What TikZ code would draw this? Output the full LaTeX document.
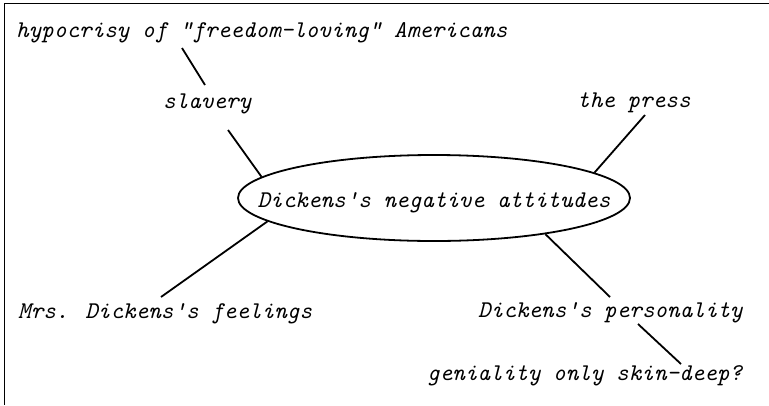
\documentclass[tikz,border=0pt]{standalone}
\usepackage{fontspec}
\usetikzlibrary{calc,shapes.geometric}
\tikzset{
  lbl/.style={anchor=base west, inner sep=0pt, font=\fontsize{24}{28}\selectfont\ttfamily\itshape},
  hub/.style={ellipse, draw, line width=1.8pt, minimum width=392pt, minimum height=86pt, inner sep=0pt, font=\fontsize{24}{28}\selectfont\ttfamily\itshape},
  link/.style={line width=1.8pt},
  frame/.style={line width=1.8pt}
}
\begin{document}
\begin{tikzpicture}[x=1pt,y=-1pt]
\useasboundingbox (0,0) rectangle (769,405);
\coordinate (fTL) at (4.5,3.5);
\coordinate (fTR) at (769,3.5);
\coordinate (fBL) at (4.5,405);
\draw[frame] (fTR) -- (fTL) -- (fBL);

\node[hub] (center) at (434,198) {\makebox[0pt]{\raisebox{-9pt}[0pt][0pt]{Dickens's negative attitudes}}};
\node[lbl] (hyp) at (16,37) {hypocrisy of "freedom-loving" Americans};
\node[lbl] (slavery) at (163,108) {slavery};
\node[lbl] (press) at (577,107) {the press};
\node[lbl] (mrs) at (18,318) {Mrs. Dickens's feelings};
\node[lbl] (pers) at (478,317) {Dickens's personality};
\node[lbl] (gen) at (427,380) {geniality only skin-deep?};

\coordinate (hypB) at ($(hyp.base west)+(166,11)$);
\coordinate (slT) at ($(slavery.base west)+(42,-23)$);
\coordinate (slB) at ($(slavery.base west)+(65,22)$);
\coordinate (prB) at ($(press.base west)+(68,8)$);
\coordinate (mrT) at ($(mrs.base west)+(143,-21)$);
\coordinate (peT) at ($(pers.base west)+(132,-20)$);
\coordinate (peB) at ($(pers.base west)+(160,7)$);
\coordinate (geT) at ($(gen.base west)+(254,-16)$);

\draw[link] (hypB) -- (slT);
\draw[link] (slB) -- (center.173);
\draw[link] (prB) -- (center.9);
\draw[link] (mrT) -- (center.188);
\draw[link] (peT) -- (center.342);
\draw[link] (peB) -- (geT);
\end{tikzpicture}
\end{document}
